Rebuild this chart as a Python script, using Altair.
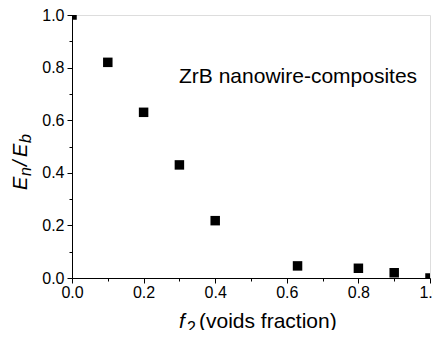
import altair as alt
import pandas as pd

# data
f2 = [0.0, 0.1, 0.2, 0.3, 0.4, 0.63, 0.8, 0.9, 1.0]
ratio = [1.0, 0.82, 0.63, 0.43, 0.218, 0.046, 0.037, 0.02, 0.0]
ticks = [round(i * 0.1, 1) for i in range(11)]
annotation = "ZrB nanowire-composites"

df = pd.DataFrame({"f2": f2, "ratio": ratio})

FONT = "Liberation Sans"
W, H = 358, 263
one = alt.Data(values=[{}])

is_major = "round(datum.value*10) % 2 === 0"

xaxis = alt.Axis(
    values=ticks, format=".1f", title=None, grid=False,
    labelExpr=f"{is_major} ? datum.label : ''",
    tickSize={"condition": {"test": is_major, "value": 5}, "value": 3},
    domainColor="black", tickColor="black", labelColor="black",
    labelFont=FONT, labelFontSize=16, labelPadding=1, labelFlush=False,
)
yaxis = alt.Axis(
    values=ticks, format=".1f", title=None, grid=False,
    labelExpr=f"{is_major} ? datum.label : ''",
    tickSize={"condition": {"test": is_major, "value": 5}, "value": 3},
    domainColor="black", tickColor="black", labelColor="black",
    labelFont=FONT, labelFontSize=16, labelPadding=3, labelFlush=False,
)

points = alt.Chart(df).mark_square(size=90, color="black", opacity=1, clip=True).encode(
    x=alt.X("f2:Q", scale=alt.Scale(domain=[0, 1], nice=False), axis=xaxis),
    y=alt.Y("ratio:Q", scale=alt.Scale(domain=[0, 1], nice=False), axis=yaxis),
)

label = alt.Chart(one).mark_text(
    text=annotation, font=FONT, fontSize=21, align="left", baseline="alphabetic", color="black"
).encode(x=alt.value(107), y=alt.value(68))

def txt(t, x, y, size, italic=False, angle=0):
    kw = dict(text=t, font=FONT, fontSize=size, align="left", baseline="alphabetic", color="black")
    if italic:
        kw["fontStyle"] = "italic"
    if angle:
        kw["angle"] = angle
    return alt.Chart(one).mark_text(**kw).encode(x=alt.value(x), y=alt.value(y))

# x-axis title: f_2 (voids fraction)
xt = [
    txt("f", 107, 313, 21, italic=True),
    txt("2", 115, 318, 16),
    txt("(voids fraction)", 127, 313, 21),
]
# y-axis title: E_n/E_b
yt = [
    txt("E", -45, 175, 20, italic=True, angle=270),
    txt("n", -41, 161, 16, italic=True, angle=270),
    txt("/", -45, 151, 20, italic=True, angle=270),
    txt("E", -45, 142, 20, italic=True, angle=270),
    txt("b", -41, 128, 16, italic=True, angle=270),
]

chart = alt.layer(points, label, *xt, *yt).properties(
    width=W, height=H,
    autosize=alt.AutoSizeParams(type="none"),
    padding={"left": 64, "top": 7, "right": 3, "bottom": 52},
).configure_view(stroke=None).configure(background="white")

chart.save("out.html", embed_options={"renderer": "svg", "actions": False})
